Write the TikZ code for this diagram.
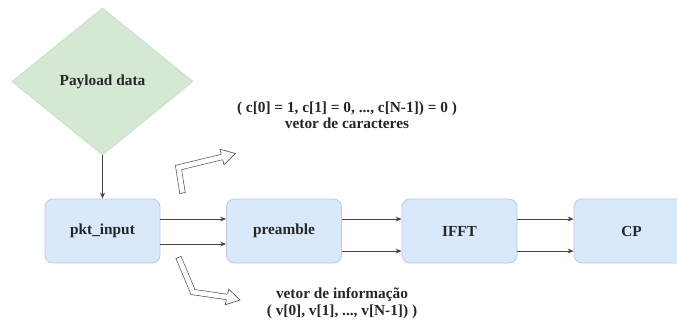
\documentclass[tikz,border=0pt]{standalone}
\usepackage{fontspec}
\setmainfont{Liberation Serif}[BoldFont={Liberation Serif Bold}]
\usetikzlibrary{shapes.geometric,arrows.meta,calc}

\definecolor{boxfill}{HTML}{DAE8FC}
\definecolor{boxline}{HTML}{B4C9E8}
\definecolor{decfill}{HTML}{D5E8D4}
\definecolor{decline}{HTML}{C2DCC0}
\definecolor{wire}{HTML}{444444}
\definecolor{hollow}{HTML}{555555}

\tikzset{
  txt/.style={font=\fontsize{11.5}{13}\selectfont\rmfamily\bfseries, text=black!85},
  block/.style={txt, draw=boxline, fill=boxfill, line width=0.6pt,
    rounded corners=6pt, minimum width=86.25pt, minimum height=48pt,
    inner sep=0pt},
  decision/.style={txt, diamond, draw=decline, fill=decfill, line width=0.5pt,
    minimum width=135.75pt, minimum height=110.25pt, inner sep=0pt, aspect=1.23},
  wireto/.style={draw=wire, line width=0.6pt, -{Stealth[length=4.5pt,width=3.6pt]}},
  shaft/.style={draw=hollow, line width=0.5pt, double=white,
    double distance=3.6pt, line join=miter},
  label/.style={txt, align=center, inner sep=0pt}
}

\begin{document}
\begin{tikzpicture}[x=0.75pt, y=-0.75pt]
  \useasboundingbox (0,0) rectangle (677,322);
  \clip (0,0) rectangle (677,322);

  % source of the packet
  \node[decision] (payload) at (102.5,81.5) {Payload data};

  % processing chain
  \node[block] (pkt)  at (102.5,231) {pkt\_input};
  \node[block] (pre)  at (284,231) {preamble};
  \node[block] (ifft) at (459.5,231) {IFFT};
  \node[block] (cp)   at (631.5,231) {CP};

  \draw[wireto] (payload.south) -- (pkt.north);

  % two streams between consecutive blocks
  \draw[wireto] (pkt.east |- 0,219) -- (pre.west |- 0,219);
  \draw[wireto] (pkt.east |- 0,244) -- (pre.west |- 0,244);
  \draw[wireto] (pre.east |- 0,219) -- (ifft.west |- 0,219);
  \draw[wireto] (pre.east |- 0,251) -- (ifft.west |- 0,251);
  \draw[wireto] (ifft.east |- 0,219) -- (cp.west |- 0,219);
  \draw[wireto] (ifft.east |- 0,251) -- (cp.west |- 0,251);

  % stream descriptions
  \node[label] (ctext) at (347,115)
    {( c[0] = 1, c[1] = 0, ..., c[N-1]) = 0 )\\[-1.2pt]vetor de caracteres};
  \node[label] (vtext) at (342,303.5)
    {vetor de informação\\[-0.2pt]( v[0], v[1], ..., v[N-1]) )};

  % hollow bent arrow pointing to the character vector
  \coordinate (ut) at (182.5,193);
  \coordinate (uc) at (178.5,167.5);
  \coordinate (ub) at (222,157);
  \coordinate (uh) at (235.5,153.5);
  \draw[shaft] (ut) -- (uc) -- (ub);
  \draw[hollow, line width=0.5pt]
    ($(ut)!2.3pt!90:(uc)$) -- ($(ut)!2.3pt!-90:(uc)$);
  \draw[hollow, line width=0.5pt, fill=white, line join=miter]
    ($(ub)!2.3pt!90:(uh)$) -- ($(ub)!6pt!90:(uh)$) -- (uh)
    -- ($(ub)!6pt!-90:(uh)$) -- ($(ub)!2.3pt!-90:(uh)$);

  % hollow bent arrow pointing to the information vector
  \coordinate (lt) at (178.5,257.5);
  \coordinate (lc) at (193,292);
  \coordinate (lb) at (227,297);
  \coordinate (lh) at (240,300);
  \draw[shaft] (lt) -- (lc) -- (lb);
  \draw[hollow, line width=0.5pt]
    ($(lt)!2.3pt!90:(lc)$) -- ($(lt)!2.3pt!-90:(lc)$);
  \draw[hollow, line width=0.5pt, fill=white, line join=miter]
    ($(lb)!2.3pt!90:(lh)$) -- ($(lb)!6pt!90:(lh)$) -- (lh)
    -- ($(lb)!6pt!-90:(lh)$) -- ($(lb)!2.3pt!-90:(lh)$);
\end{tikzpicture}
\end{document}
